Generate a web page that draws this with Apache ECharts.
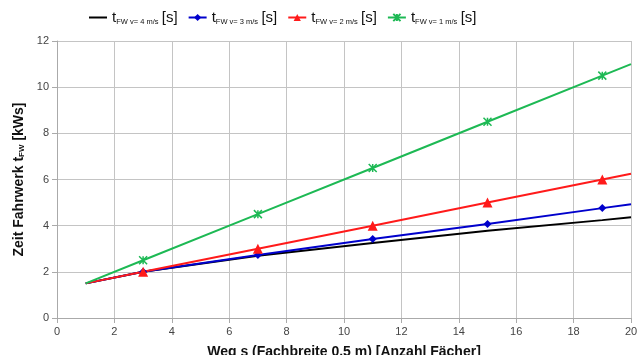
<!DOCTYPE html>
<html>
<head>
<meta charset="utf-8">
<script src="https://cdn.jsdelivr.net/npm/echarts@6/dist/echarts.min.js"></script>
<style>
  html, body { margin: 0; padding: 0; background: #fff; }
  #chart { width: 641px; height: 355px; }
</style>
</head>
<body>
<div id="chart"></div>
<script>
// Weg s [Anzahl Fächer]
var xData = [1, 3, 7, 11, 15, 19, 20];
var yV4 = [1.5, 2.0, 2.7, 3.25, 3.78, 4.24, 4.36];
var yV3 = [1.5, 2.0, 2.73, 3.42, 4.07, 4.76, 4.93];
var yV2 = [1.5, 2.0, 3.0, 4.0, 5.0, 6.0, 6.25];
var yV1 = [1.5, 2.5, 4.5, 6.5, 8.5, 10.5, 11.0];
var speeds = ["4", "3", "2", "1"];

function pairs(ys) {
  return xData.map(function (x, i) { return [x, ys[i]]; });
}
function marked(ys) {
  // markers only at the inner points, not at the ends
  return xData.map(function (x, i) {
    var last = i === 0 || i === xData.length - 1;
    return { value: [x, ys[i]], symbolSize: last ? 0 : undefined };
  });
}

var chart = echarts.init(document.getElementById("chart"));
var font = "Liberation Sans, Arial, sans-serif";
var star = "path://M0,0L10,10M10,0L0,10M5,0L5,10";
var nameRich = {
  a: { fontFamily: font, fontSize: 14, fontWeight: "bold", color: "#111" },
  s: { fontFamily: font, fontSize: 8, fontWeight: "bold", color: "#111", verticalAlign: "bottom", padding: [6, 0, 0, 0] }
};

chart.setOption({
  animation: false,
  legend: {
    top: 5,
    left: 83,
    itemWidth: 18,
    itemHeight: 9,
    itemGap: 10,
    data: [
      { name: "v4", itemStyle: { opacity: 0 } },
      { name: "v3" },
      { name: "v2" },
      { name: "v1" }
    ],
    formatter: function (name) {
      return "{t|t}{s|FW v= " + name.slice(1) + " m/s} {b|[s]}";
    },
    textStyle: {
      fontFamily: font,
      color: "#111",
      rich: {
        t: { fontSize: 15, fontFamily: font, color: "#111" },
        s: { fontSize: 7.5, fontFamily: font, color: "#111", verticalAlign: "bottom", padding: [8, 0, 0, 0] },
        b: { fontSize: 15, fontFamily: font, color: "#111" }
      }
    }
  },
  grid: { left: 57, right: 10, top: 41, bottom: 37, outerBoundsMode: "none" },
  xAxis: {
    type: "value",
    min: 0,
    max: 20,
    interval: 2,
    name: "Weg s (Fachbreite 0.5 m) [Anzahl Fächer]",
    nameLocation: "middle",
    nameGap: 27,
    nameTextStyle: { fontFamily: font, fontSize: 14, fontWeight: "bold", color: "#111" },
    axisLine: { lineStyle: { color: "#aaa" } },
    axisTick: { show: true, lineStyle: { color: "#aaa" } },
    axisLabel: { color: "#444", fontFamily: font, fontSize: 11 },
    splitLine: { show: true, lineStyle: { color: "#c4c4c4", width: 1 } }
  },
  yAxis: {
    type: "value",
    min: 0,
    max: 12,
    interval: 2,
    name: "{a|Zeit Fahrwerk t}{s|FW}{a| [kWs]}",
    nameLocation: "middle",
    nameGap: 26,
    nameRotate: 90,
    nameTextStyle: { rich: nameRich },
    axisLine: { show: true, lineStyle: { color: "#aaa" } },
    axisTick: { show: true, lineStyle: { color: "#aaa" } },
    axisLabel: { color: "#444", fontFamily: font, fontSize: 11 },
    splitLine: { show: true, lineStyle: { color: "#c4c4c4", width: 1 } }
  },
  series: [
    {
      name: "v4", type: "line", data: pairs(yV4),
      showSymbol: false, symbol: "none",
      lineStyle: { color: "#000", width: 2 }, itemStyle: { color: "#000" }
    },
    {
      name: "v3", type: "line", data: marked(yV3),
      symbol: "diamond", symbolSize: 8,
      lineStyle: { color: "#0000cc", width: 2 }, itemStyle: { color: "#0000cc" }
    },
    {
      name: "v2", type: "line", data: marked(yV2),
      symbol: "triangle", symbolSize: 10,
      lineStyle: { color: "#ff1a1a", width: 2 }, itemStyle: { color: "#ff1a1a" }
    },
    {
      name: "v1", type: "line", data: marked(yV1),
      symbol: star, symbolSize: 8,
      lineStyle: { color: "#1db954", width: 2 },
      itemStyle: { color: "#1db954", borderColor: "#1db954", borderWidth: 1.5 }
    }
  ]
});
</script>
</body>
</html>
